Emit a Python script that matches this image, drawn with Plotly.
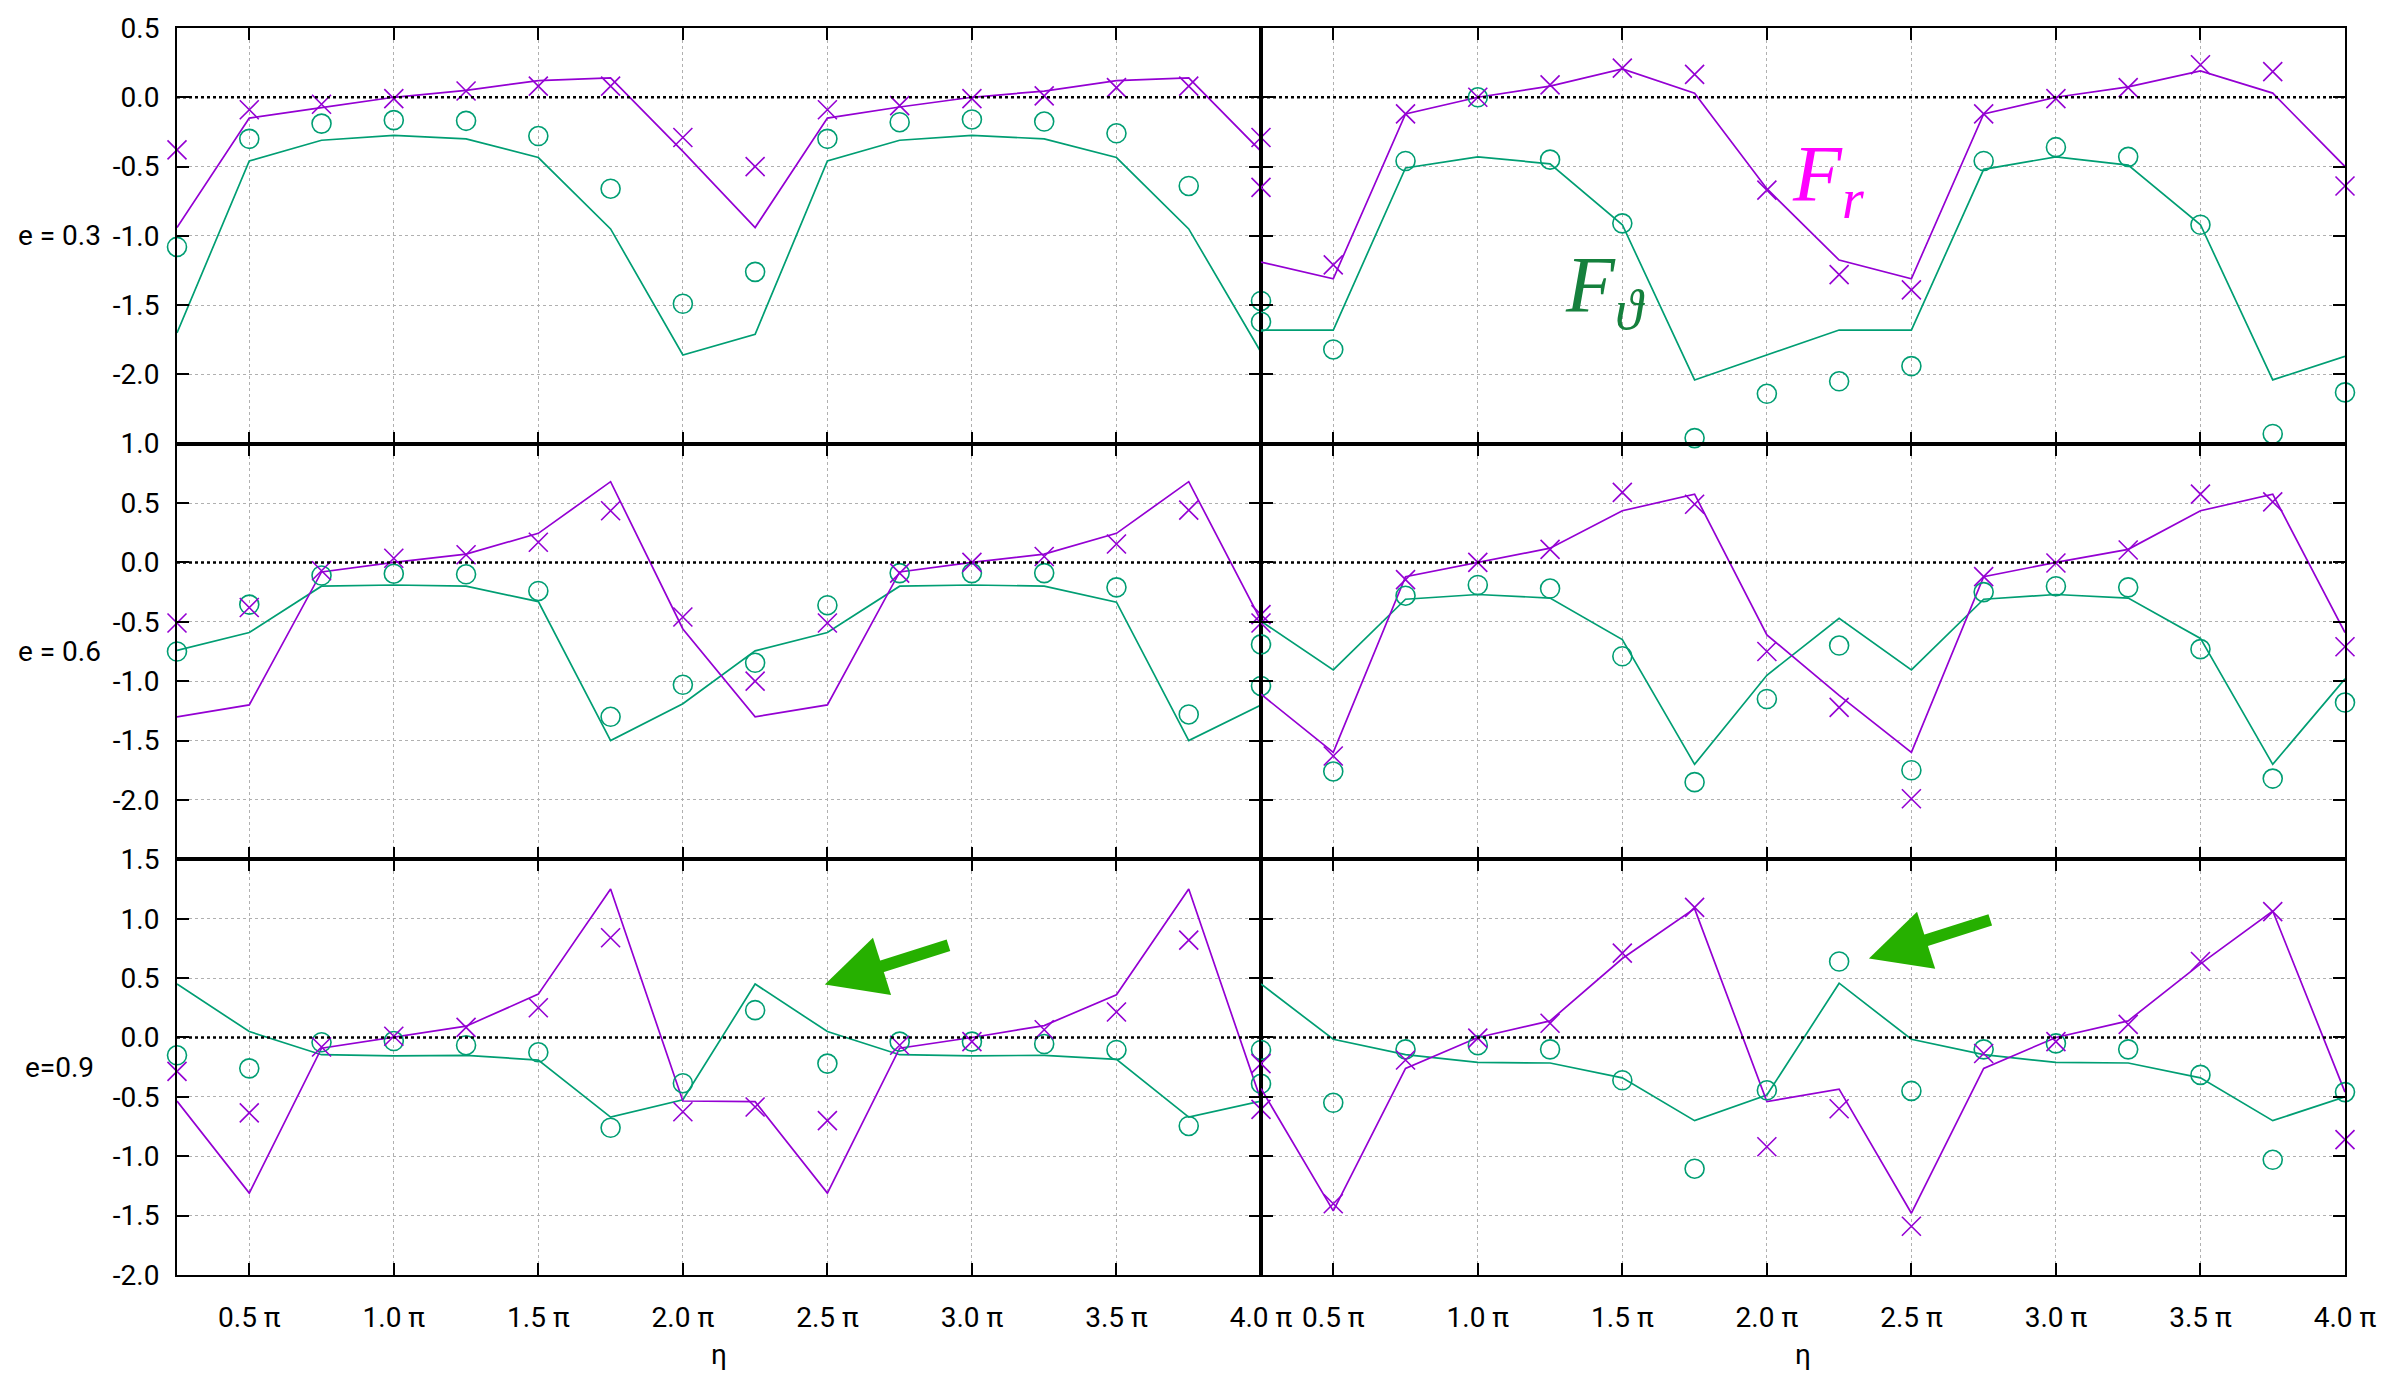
import plotly.graph_objects as go
from plotly.subplots import make_subplots

# ---------------- data (eta in units of pi) ----------------
eta = [0.25, 0.5, 0.75, 1.0, 1.25, 1.5, 1.75, 2.0, 2.25, 2.5, 2.75, 3.0, 3.25, 3.5, 3.75, 4.0]

x_tickvals = [0.5, 1.0, 1.5, 2.0, 2.5, 3.0, 3.5, 4.0]
x_ticktext = ["0.5 π", "1.0 π", "1.5 π", "2.0 π", "2.5 π", "3.0 π", "3.5 π", "4.0 π"]

row_labels = ["e = 0.3", "e = 0.6", "e=0.9"]
y_ranges = [[-2.5, 0.5], [-2.5, 1.0], [-2.0, 1.5]]
y_tickvals = [
    [-2.0, -1.5, -1.0, -0.5, 0.0, 0.5],
    [-2.0, -1.5, -1.0, -0.5, 0.0, 0.5, 1.0],
    [-2.0, -1.5, -1.0, -0.5, 0.0, 0.5, 1.0, 1.5],
]

# e = 0.3, left column
fr_line_03_L = [-0.94, -0.15, -0.075, 0.0, 0.05, 0.12, 0.14, -0.39, -0.94, -0.15, -0.07, 0.0, 0.045, 0.12, 0.14, -0.39]
fr_pts_03_L = [-0.38, -0.09, -0.05, -0.01, 0.045, 0.08, 0.08, -0.29, -0.50, -0.09, -0.06, -0.01, 0.01, 0.07, 0.08, -0.29]
ft_line_03_L = [-1.70, -0.46, -0.31, -0.275, -0.30, -0.435, -0.95, -1.86, -1.71, -0.46, -0.31, -0.275, -0.30, -0.435, -0.95, -1.84]
ft_pts_03_L = [-1.08, -0.30, -0.19, -0.165, -0.17, -0.28, -0.66, -1.49, -1.26, -0.30, -0.18, -0.16, -0.175, -0.26, -0.64, -1.47]
# e = 0.3, right column
fr_line_03_R = [-1.19, -1.31, -0.12, 0.0, 0.08, 0.205, 0.03, -0.66, -1.175, -1.31, -0.12, 0.0, 0.075, 0.19, 0.03, -0.50]
fr_pts_03_R = [-0.65, -1.21, -0.12, 0.0, 0.09, 0.21, 0.165, -0.67, -1.28, -1.39, -0.12, -0.01, 0.07, 0.235, 0.185, -0.64]
ft_line_03_R = [-1.68, -1.68, -0.51, -0.43, -0.48, -0.92, -2.04, -1.86, -1.68, -1.68, -0.52, -0.43, -0.49, -0.92, -2.04, -1.87]
ft_pts_03_R = [-1.62, -1.82, -0.46, 0.0, -0.45, -0.91, -2.46, -2.14, -2.05, -1.94, -0.46, -0.36, -0.43, -0.92, -2.43, -2.13]

# e = 0.6, left column
fr_line_06_L = [-1.30, -1.20, -0.08, 0.0, 0.07, 0.245, 0.68, -0.56, -1.30, -1.20, -0.08, 0.0, 0.07, 0.245, 0.68, -0.49]
fr_pts_06_L = [-0.51, -0.38, -0.07, 0.035, 0.065, 0.17, 0.435, -0.46, -1.0, -0.51, -0.09, 0.0, 0.05, 0.155, 0.44, -0.44]
ft_line_06_L = [-0.74, -0.59, -0.20, -0.19, -0.20, -0.33, -1.50, -1.19, -0.745, -0.59, -0.20, -0.19, -0.20, -0.335, -1.50, -1.20]
ft_pts_06_L = [-0.75, -0.355, -0.11, -0.095, -0.10, -0.24, -1.30, -1.03, -0.845, -0.36, -0.09, -0.09, -0.09, -0.21, -1.28, -1.04]
# e = 0.6, right column
fr_line_06_R = [-1.11, -1.60, -0.12, 0.0, 0.12, 0.435, 0.575, -0.61, -1.12, -1.60, -0.12, 0.0, 0.11, 0.435, 0.575, -0.59]
fr_pts_06_R = [-0.51, -1.63, -0.145, 0.0, 0.11, 0.59, 0.49, -0.75, -1.22, -1.99, -0.12, -0.005, 0.105, 0.575, 0.51, -0.71]
ft_line_06_R = [-0.495, -0.905, -0.31, -0.27, -0.30, -0.65, -1.70, -0.95, -0.47, -0.905, -0.31, -0.27, -0.30, -0.64, -1.70, -0.98]
ft_pts_06_R = [-0.69, -1.76, -0.28, -0.19, -0.22, -0.79, -1.85, -1.15, -0.70, -1.75, -0.25, -0.20, -0.21, -0.73, -1.82, -1.18]

# e = 0.9, left column
fr_line_09_L = [-0.535, -1.31, -0.09, 0.0, 0.095, 0.365, 1.25, -0.535, -0.54, -1.31, -0.09, 0.0, 0.10, 0.36, 1.25, -0.53]
fr_pts_09_L = [-0.285, -0.635, -0.08, 0.01, 0.085, 0.25, 0.84, -0.625, -0.585, -0.70, -0.065, -0.035, 0.065, 0.215, 0.82, -0.605]
ft_line_09_L = [0.45, 0.05, -0.145, -0.155, -0.15, -0.19, -0.67, -0.525, 0.45, 0.05, -0.145, -0.155, -0.15, -0.185, -0.67, -0.535]
ft_pts_09_L = [-0.15, -0.26, -0.04, -0.03, -0.065, -0.125, -0.76, -0.385, 0.23, -0.22, -0.035, -0.035, -0.055, -0.105, -0.745, -0.39]
# e = 0.9, right column
fr_line_09_R = [-0.43, -1.46, -0.26, 0.0, 0.14, 0.665, 1.085, -0.54, -0.435, -1.48, -0.26, 0.0, 0.14, 0.62, 1.065, -0.46]
fr_pts_09_R = [-0.22, -1.40, -0.19, -0.005, 0.12, 0.71, 1.095, -0.92, -0.60, -1.59, -0.135, -0.035, 0.11, 0.64, 1.06, -0.86]
ft_line_09_R = [0.45, -0.015, -0.145, -0.21, -0.215, -0.34, -0.70, -0.485, 0.457, -0.015, -0.145, -0.21, -0.215, -0.34, -0.70, -0.50]
ft_pts_09_R = [-0.105, -0.55, -0.10, -0.065, -0.10, -0.36, -1.105, -0.445, 0.64, -0.45, -0.10, -0.05, -0.10, -0.315, -1.03, -0.46]

panels = [
    (1, 1, fr_line_03_L, fr_pts_03_L, ft_line_03_L, ft_pts_03_L),
    (1, 2, fr_line_03_R, fr_pts_03_R, ft_line_03_R, ft_pts_03_R),
    (2, 1, fr_line_06_L, fr_pts_06_L, ft_line_06_L, ft_pts_06_L),
    (2, 2, fr_line_06_R, fr_pts_06_R, ft_line_06_R, ft_pts_06_R),
    (3, 1, fr_line_09_L, fr_pts_09_L, ft_line_09_L, ft_pts_09_L),
    (3, 2, fr_line_09_R, fr_pts_09_R, ft_line_09_R, ft_pts_09_R),
]

# ---------------- style ----------------
PURPLE = "#9400d3"
GREEN = "#009e73"
FONT = "Roboto"
FS = 28

fig = make_subplots(rows=3, cols=2, horizontal_spacing=0, vertical_spacing=0)

for r, c, frl, frp, ftl, ftp in panels:
    fig.add_trace(go.Scatter(x=eta, y=ftl, mode="lines", line=dict(color=GREEN, width=1.7),
                             showlegend=False, hoverinfo="skip"), row=r, col=c)
    fig.add_trace(go.Scatter(x=eta, y=frl, mode="lines", line=dict(color=PURPLE, width=1.7),
                             showlegend=False, hoverinfo="skip"), row=r, col=c)
    fig.add_trace(go.Scatter(x=eta, y=ftp, mode="markers", cliponaxis=False,
                             marker=dict(symbol="circle-open", size=19, color=GREEN,
                                         line=dict(width=1.6, color=GREEN)),
                             showlegend=False), row=r, col=c)
    fig.add_trace(go.Scatter(x=eta, y=frp, mode="markers", cliponaxis=False,
                             marker=dict(symbol="x-thin", size=19, color=PURPLE,
                                         line=dict(width=1.6, color=PURPLE)),
                             showlegend=False), row=r, col=c)

for r in range(1, 4):
    for c in range(1, 3):
        fig.update_xaxes(
            range=[0.25, 4.0], tickvals=x_tickvals, ticktext=x_ticktext,
            ticks="inside", ticklen=12, tickwidth=1.5, tickcolor="black",
            showline=True, linecolor="black", linewidth=2, mirror="ticks",
            showgrid=True, gridcolor="#b0b0b0", griddash="dot", gridwidth=1,
            zeroline=False, showticklabels=(r == 3), ticklabelstandoff=16,
            tickfont=dict(family=FONT, size=FS, color="black"),
            row=r, col=c)
        fig.update_yaxes(
            range=y_ranges[r - 1], tickvals=y_tickvals[r - 1],
            ticktext=[f"{v:.1f}" for v in y_tickvals[r - 1]],
            ticks="inside", ticklen=12, tickwidth=1.5, tickcolor="black",
            showline=True, linecolor="black", linewidth=2, mirror="ticks",
            showgrid=True, gridcolor="#b0b0b0", griddash="dot", gridwidth=1,
            zeroline=False, showticklabels=(c == 1), ticklabelstandoff=10,
            tickfont=dict(family=FONT, size=FS, color="black"),
            row=r, col=c)

# dotted zero axis in every panel
for i in range(1, 7):
    sfx = "" if i == 1 else str(i)
    fig.add_shape(type="line", xref=f"x{sfx} domain", yref=f"y{sfx}", x0=0, x1=1, y0=0, y1=0,
                  line=dict(color="black", width=2.5, dash="dot"), layer="above")

annotations = []
for i, lab in enumerate(row_labels):
    annotations.append(dict(text=lab, xref="paper", yref="paper", x=-0.054, y=1 - (2 * i + 1) / 6,
                            xanchor="center", yanchor="middle", showarrow=False,
                            font=dict(family=FONT, size=FS, color="black")))
for xc in (0.25, 0.75):
    annotations.append(dict(text="η", xref="paper", yref="paper", x=xc, y=-0.064,
                            xanchor="center", yanchor="middle", showarrow=False,
                            font=dict(family=FONT, size=FS, color="black")))

# curve labels
annotations.append(dict(text="<i>F</i><sub><i>r</i></sub>", xref="x2", yref="y2", x=2.21, y=-0.60,
                        xanchor="center", yanchor="middle", showarrow=False,
                        font=dict(family="Liberation Serif, DejaVu Serif", size=80, color="#ff00ff")))
annotations.append(dict(text="<i>F</i><sub><i>ϑ</i></sub>", xref="x2", yref="y2", x=1.44, y=-1.40,
                        xanchor="center", yanchor="middle", showarrow=False,
                        font=dict(family="Liberation Serif, DejaVu Serif", size=80, color="#15803d")))

# hand-drawn green arrows
for ax_id, tip, tail in (("5", (2.491, 0.447), (2.924, 0.78)), ("6", (2.353, 0.666), (2.778, 0.994))):
    annotations.append(dict(text="", xref=f"x{ax_id}", yref=f"y{ax_id}", axref=f"x{ax_id}", ayref=f"y{ax_id}",
                            x=tip[0], y=tip[1], ax=tail[0], ay=tail[1], showarrow=True,
                            arrowhead=2, arrowsize=1.0, arrowwidth=12, arrowcolor="#26b000", standoff=0))

fig.update_layout(
    width=2397, height=1375,
    margin=dict(l=177, r=52, t=20, b=100),
    paper_bgcolor="white", plot_bgcolor="white",
    showlegend=False,
    annotations=annotations,
    font=dict(family=FONT, size=FS, color="black"),
)

fig.write_html("out.html")
